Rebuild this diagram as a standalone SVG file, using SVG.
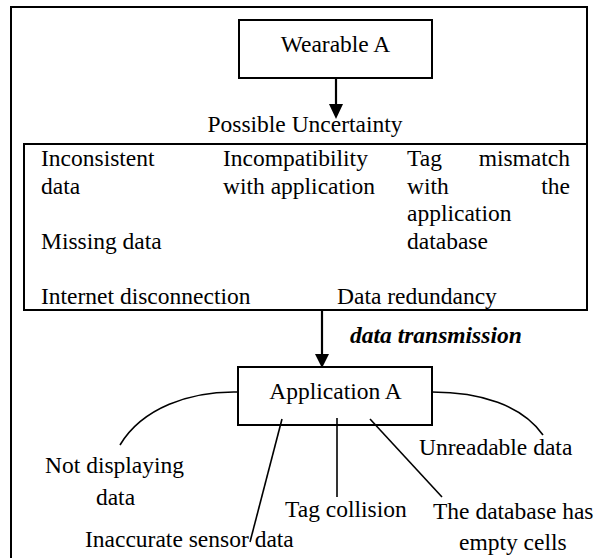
<svg xmlns="http://www.w3.org/2000/svg" width="597" height="558" viewBox="0 0 597 558" font-family="'Liberation Serif', 'Times New Roman', 'DejaVu Serif', serif">
<style>
text{font-family:'Liberation Serif','Times New Roman','DejaVu Serif',serif;font-size:23.5px;fill:#000}
.box{fill:#fff;stroke:#000;stroke-width:2}
.ln{fill:none;stroke:#000;stroke-width:1.6}
.ar{fill:none;stroke:#000;stroke-width:2.2}
.bi{font-weight:bold;font-style:italic}
</style>
<rect width="597" height="558" fill="#fff"/>
<path d="M11,570 V7 H587 V144" fill="none" stroke="#000" stroke-width="2"/>
<g id="wearable">
<rect class="box" x="239" y="20" width="193" height="58"/>
<text x="335.5" y="52" text-anchor="middle">Wearable A</text>
</g>
<g id="uncertainty">
<text x="305" y="132" text-anchor="middle">Possible Uncertainty</text>
<rect class="box" x="24" y="144" width="563" height="166"/>
<text x="41" y="166">Inconsistent</text>
<text x="41" y="193.5">data</text>
<text x="41" y="248.5">Missing data</text>
<text x="41" y="303.5">Internet disconnection</text>
<text x="223" y="166">Incompatibility</text>
<text x="223" y="193.5">with application</text>
<text x="407" y="166">Tag</text>
<text x="570" y="166" text-anchor="end">mismatch</text>
<text x="407" y="193.5">with</text>
<text x="570" y="193.5" text-anchor="end">the</text>
<text x="407" y="221">application</text>
<text x="407" y="248.5">database</text>
<text x="337" y="303.5">Data redundancy</text>
</g>
<g id="application">
<rect class="box" x="238" y="367" width="194" height="58"/>
<text x="335.5" y="399" text-anchor="middle">Application A</text>
</g>
<g id="connectors">
<line class="ar" x1="336" y1="78" x2="336" y2="106"/>
<polygon points="329,104 343,104 336,119"/>
<line class="ar" x1="322" y1="311" x2="322" y2="356"/>
<polygon points="315,354 329,354 322,368"/>
<text class="bi" x="350" y="343">data transmission</text>
<path class="ln" d="M238,392 C190,391 142,408 120,445"/>
<path class="ln" d="M432,392 C480,392 522,405 543,435"/>
<line class="ln" x1="282" y1="419" x2="250" y2="542"/>
<line class="ln" x1="337" y1="418" x2="337" y2="497"/>
<line class="ln" x1="370" y1="419" x2="442" y2="497"/>
</g>
<g id="labels">
<text x="45" y="473">Not displaying</text>
<text x="115.5" y="505" text-anchor="middle">data</text>
<text x="85" y="547">Inaccurate sensor data</text>
<text x="285" y="517">Tag collision</text>
<text x="419" y="455">Unreadable data</text>
<text x="433" y="519">The database has</text>
<text x="459" y="550">empty cells</text>
</g>
</svg>
